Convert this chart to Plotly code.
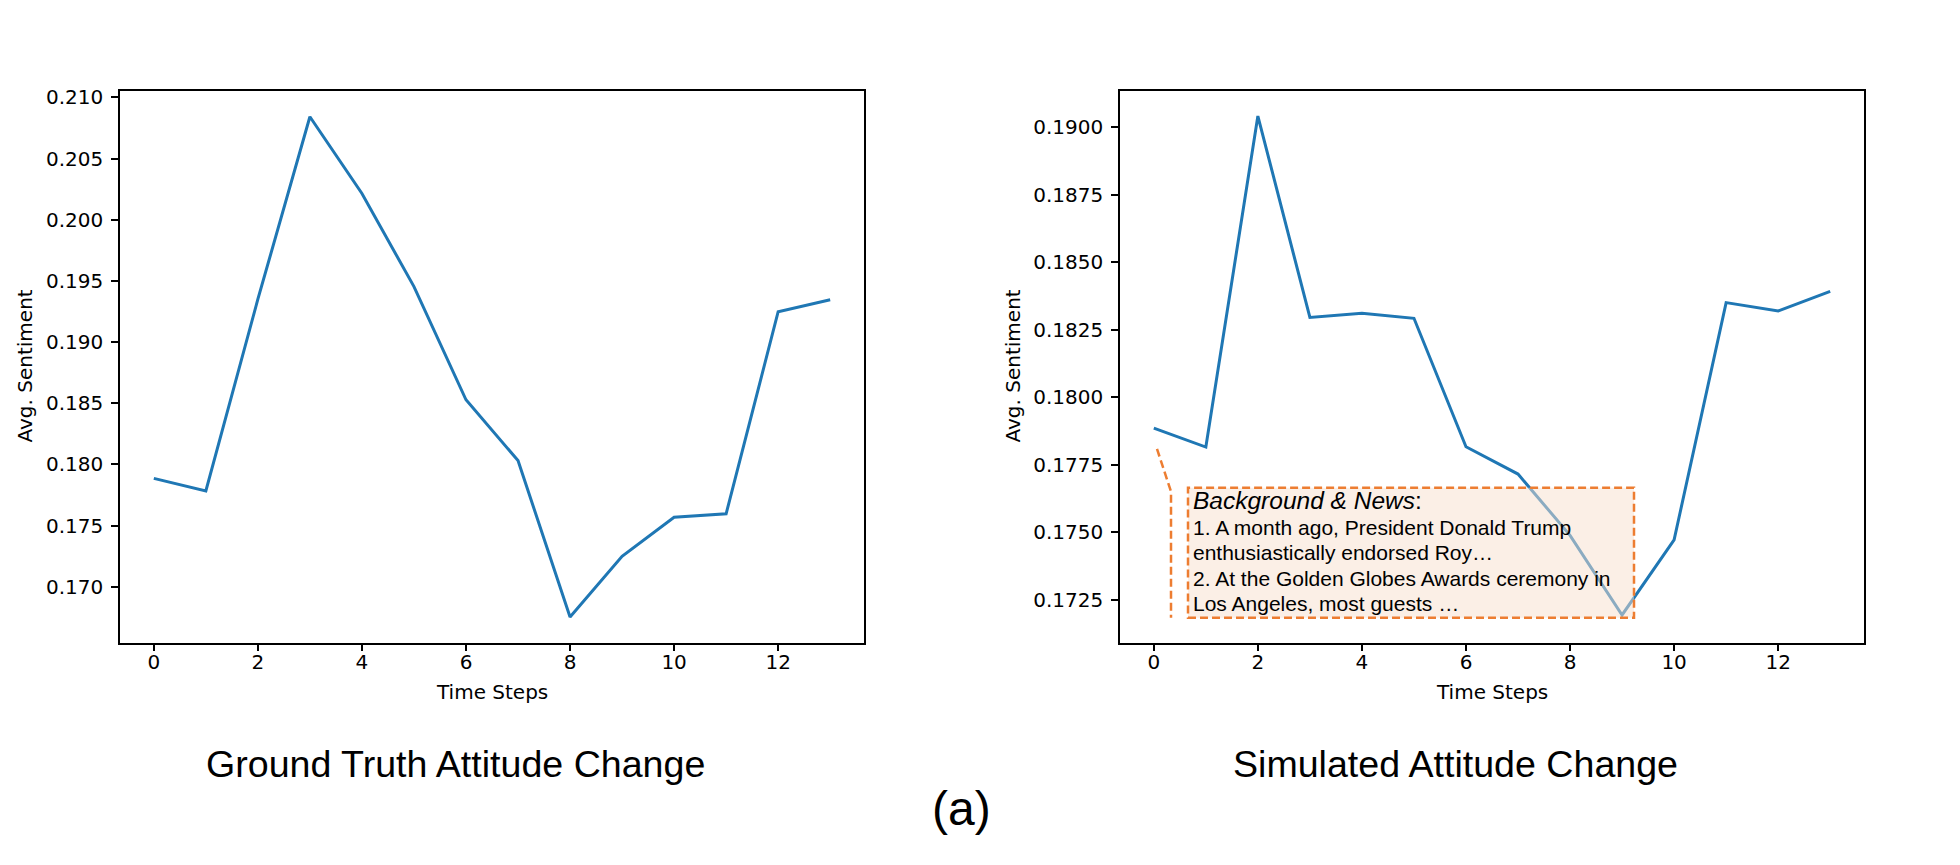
import plotly.graph_objects as go

W, H = 1960, 865

time_steps = list(range(14))
ground_truth = [0.17885, 0.17783, 0.1935, 0.20842, 0.20214, 0.19453, 0.18528, 0.18031,
                0.16752, 0.17248, 0.17568, 0.17596, 0.19248, 0.19345]
simulated = [0.17886, 0.17816, 0.19042, 0.18296, 0.18312, 0.18293, 0.17817, 0.17716,
             0.17489, 0.17194, 0.17472, 0.18351, 0.18320, 0.18393]

left_ticks = [0.170, 0.175, 0.180, 0.185, 0.190, 0.195, 0.200, 0.205, 0.210]
right_ticks = [0.1725, 0.1750, 0.1775, 0.1800, 0.1825, 0.1850, 0.1875, 0.1900]
x_ticks = [0, 2, 4, 6, 8, 10, 12]

panel_titles = ["Ground Truth Attitude Change", "Simulated Attitude Change"]
caption = "(a)"
x_label = "Time Steps"
y_label = "Avg. Sentiment"
news_lines = ["<i>Background &amp; News</i>:",
              "1. A month ago, President Donald Trump",
              "enthusiastically endorsed Roy…",
              "2. At the Golden Globes Awards ceremony in",
              "Los Angeles, most guests …"]


def fx(px):
    return px / W


def fy(py):
    return 1 - py / H


LINE = "#1f77b4"
ORANGE = "#ED7D31"
TICKFONT = dict(family="DejaVu Sans", size=20, color="black")

fig = go.Figure()
fig.add_trace(go.Scatter(x=time_steps, y=ground_truth, mode="lines",
                         line=dict(color=LINE, width=3), xaxis="x", yaxis="y",
                         showlegend=False, hoverinfo="skip"))
fig.add_trace(go.Scatter(x=time_steps, y=simulated, mode="lines",
                         line=dict(color=LINE, width=3), xaxis="x2", yaxis="y2",
                         showlegend=False, hoverinfo="skip"))

ydom = [fy(641), fy(86)]
common_x = dict(range=[-0.65, 13.65], tickvals=x_ticks, ticks="outside", ticklen=7,
                tickwidth=1.6, tickcolor="black", showline=True, linecolor="black",
                linewidth=1.6, mirror=True, showgrid=False, zeroline=False,
                tickfont=TICKFONT, ticklabelstandoff=-6)
common_y = dict(ticks="outside", ticklen=7, tickwidth=1.6, tickcolor="black",
                showline=True, linecolor="black", linewidth=1.6, mirror=True,
                showgrid=False, zeroline=False, tickfont=TICKFONT,
                ticklabelstandoff=4)

fig.update_layout(
    width=W, height=H, margin=dict(l=0, r=0, t=0, b=0),
    paper_bgcolor="white", plot_bgcolor="white",
    xaxis=dict(domain=[fx(120), fx(864)], anchor="y", **common_x),
    yaxis=dict(domain=ydom, anchor="x", range=[0.16543, 0.21049],
               tickvals=left_ticks, tickformat=".3f", **common_y),
    xaxis2=dict(domain=[fx(1120), fx(1864)], anchor="y2", **common_x),
    yaxis2=dict(domain=ydom, anchor="x2", range=[0.170918, 0.191335],
                tickvals=right_ticks, tickformat=".4f", **common_y),
)

ann = []
# axis labels
for cx in (492, 1492):
    ann.append(dict(text=x_label, x=fx(cx), y=fy(691), xref="paper", yref="paper",
                    showarrow=False, xanchor="center", yanchor="middle",
                    font=dict(family="DejaVu Sans", size=20, color="black")))
for cx in (25, 1013):
    ann.append(dict(text=y_label, x=fx(cx), y=fy(363), xref="paper", yref="paper",
                    showarrow=False, xanchor="center", yanchor="middle", textangle=-90,
                    font=dict(family="DejaVu Sans", size=20, color="black")))
# panel titles
for t, cx in zip(panel_titles, (455, 1455)):
    ann.append(dict(text=t, x=fx(cx), y=fy(763), xref="paper", yref="paper",
                    showarrow=False, xanchor="center", yanchor="middle",
                    font=dict(family="Liberation Sans", size=37.6, color="black")))
ann.append(dict(text=caption, x=fx(961), y=fy(808), xref="paper", yref="paper",
                showarrow=False, xanchor="center", yanchor="middle",
                font=dict(family="Liberation Sans", size=48, color="black")))
# news box text, one annotation per line for tighter line spacing
for i, line in enumerate(news_lines):
    ann.append(dict(text=line, x=fx(1191), y=fy(498 + 25.75 * i) if i == 0 else fy(499 + 25.75 * i),
                    xref="paper", yref="paper", showarrow=False, xanchor="left",
                    yanchor="middle", align="left",
                    font=dict(family="Liberation Sans", size=24.5 if i == 0 else 21,
                              color="black")))
fig.update_layout(annotations=ann)

fig.add_shape(type="rect", xref="paper", yref="paper",
              x0=fx(1188), x1=fx(1634), y0=fy(616), y1=fy(485),
              fillcolor="rgba(247,224,205,0.5)", layer="above",
              line=dict(color=ORANGE, width=2.5, dash="8px,4px"))
fig.add_shape(type="path", xref="paper", yref="paper",
              path=f"M {fx(1157)} {fy(446)} L {fx(1171)} {fy(489)} L {fx(1171)} {fy(616)}",
              layer="above", line=dict(color=ORANGE, width=2.5, dash="8px,4px"))

fig.write_html("out.html")
